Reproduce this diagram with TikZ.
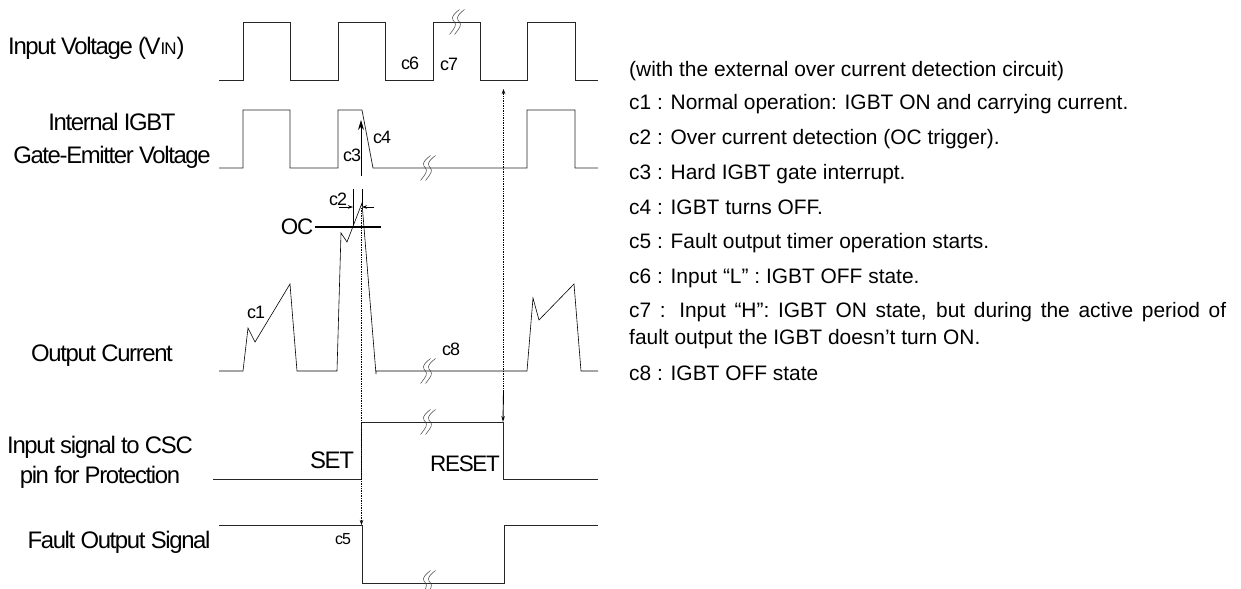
\documentclass[tikz,border=0pt]{standalone}
\usepackage{fontspec}
\setmainfont{Liberation Sans}
\usetikzlibrary{arrows.meta}
\newfontfamily\tightf[LetterSpace=-5.7]{Liberation Sans}
\tikzset{
  x=1bp,y=-1bp,
  wave/.style={draw=black!85,line width=0.75bp,line join=miter},
  thin wave/.style={draw=black,line width=0.6bp},
  dotline/.style={draw=black,line width=0.7bp,densely dotted},
  tip/.style={-{Stealth[length=5bp,width=3.5bp]}},
  lab/.style={font=\fontsize{24}{30}\selectfont\tightf,inner sep=0pt,align=center},
  marklab/.style={font=\fontsize{22.5}{26}\selectfont\tightf,inner sep=0pt},
  small/.style={font=\fontsize{18}{20}\selectfont\tightf,inner sep=0pt},
  note/.style={font=\fontsize{21}{26}\selectfont,inner sep=0pt,anchor=base west,align=left},
  brk/.pic={
    \foreach \d in {-2.5,2.5}{
      \draw[line width=0.5bp,black!75] (\d+5,-12.5) .. controls (\d-5,-5) and (\d-2,-2) .. (\d,0) .. controls (\d+2,3) and (\d+1,5) .. (\d-5,12.5);
    }
  }
}
\begin{document}
\begin{tikzpicture}
\useasboundingbox (0,0) rectangle (1241,589);
% waveforms
\draw[wave] (219,80)-|(243,22)-|(290,80)-|(338,22)-|(385,80)-|(433,22)-|(480,80)-|(527,22)-|(575,80)--(598,80);
\draw[wave] (219,168)-|(243,110)-|(290,168)-|(338,110)--(362,110)--(373,168)--(527,168)--(527,110)--(575,110)--(575,168)--(598,168);
\draw[thin wave] (219,371)--(243,371)--(248,328)--(255,342)--(290,284)--(297,371)--(337,371)--(341,233)--(347,242)--(362,203)--(376,374)--(376,371)--(527,371)--(533,298)--(539,320)--(574,284)--(581,371)--(598,371);
\draw[wave] (213,479)--(361.5,479)--(361.5,422)--(503,422)--(503,479)--(598,479);
\draw[wave] (219,525)--(362,525)--(362,583)--(504,583)--(504,525)--(598,525);
% breaks
\pic at (457,22) {brk};
\pic at (428,168) {brk};
\pic at (428,371) {brk};
\pic at (428,422) {brk};
\pic at (428,583) {brk};
% timing guides
\coordinate (oc1) at (315,227); \coordinate (oc2) at (381,227);
\draw[line width=1.1bp] (oc1)--(oc2);
\coordinate (c3a) at (361,176); \coordinate (c3b) at (361,120);
\draw[line width=0.9bp,-{Stealth[length=10bp,width=6bp]}] (c3a)--(c3b);
\coordinate (t1) at (353,189); \coordinate (t1b) at (353,225);
\coordinate (t2) at (362,189); \coordinate (t2b) at (362,206);
\draw[line width=0.5bp] (t1)--(t1b) (t2)--(t2b);
\coordinate (a1) at (339,207); \coordinate (a1b) at (353,207);
\coordinate (a2) at (374,207); \coordinate (a2b) at (362,207);
\draw[line width=0.6bp,tip] (a1)--(a1b);
\draw[line width=0.6bp,tip] (a2)--(a2b);
\coordinate (d1) at (361.5,208); \coordinate (d1b) at (361.5,525);
\draw[dotline,tip] (d1)--(d1b);
\coordinate (d2) at (503.5,392); \coordinate (d2b) at (503.5,89);
\draw[dotline,tip] (d2)--(d2b);
\coordinate (d3b) at (503,422);
\draw[line width=0.9bp,-{Stealth[length=6bp,width=3.5bp]}] (d2)--(d3b);
% left labels
\node[lab,anchor=west] (l1) at (8,48) {Input Voltage (V{\fontsize{17}{17}\selectfont IN})};
\node[lab] (l2) at (112,141) {Internal IGBT\\[3pt]Gate-Emitter Voltage};
\node[lab] (l3) at (102,356) {Output Current};
\node[lab] (l4) at (100,462) {Input signal to CSC\\pin for Protection};
\node[lab] (l5) at (119,542) {Fault Output Signal};
% marks
\node[small] (m6) at (410,63) {c6};
\node[small] (m7) at (449,64) {c7};
\node[small] (m4) at (382,137) {c4};
\node[small] (m3) at (352,155) {c3};
\node[small] (m2) at (338,199) {c2};
\node[marklab] (moc) at (297,227) {OC};
\node[small] (m1) at (256,312) {c1};
\node[small] (m8) at (451,349) {c8};
\node[lab] (mset) at (332,460) {SET};
\node[marklab] (mres) at (465,464) {RESET};
\node[font=\fontsize{16}{18}\selectfont\tightf,inner sep=0pt] (m5) at (343,539) {c5};
% notes
\node[note] (n0) at (629,77) {(with the external over current detection circuit)};
\node[note] (n1) at (629,110) {c1 : Normal operation: IGBT ON and carrying current.};
\node[note] (n2) at (629,145) {c2 : Over current detection (OC trigger).};
\node[note] (n3) at (629,180) {c3 : Hard IGBT gate interrupt.};
\node[note] (n4) at (629,215) {c4 : IGBT turns OFF.};
\node[note] (n5) at (629,249) {c5 : Fault output timer operation starts.};
\node[note] (n6) at (629,284) {c6 : Input “L” : IGBT OFF state.};
\node[note] (n7) at (629,318) {\makebox[597bp][s]{c7 : Input “H”: IGBT ON state, but during the active period of}};
\node[note] (n7b) at (629,345) {fault output the IGBT doesn’t turn ON.};
\node[note] (n8) at (629,380) {c8 : IGBT OFF state};
\end{tikzpicture}
\end{document}
